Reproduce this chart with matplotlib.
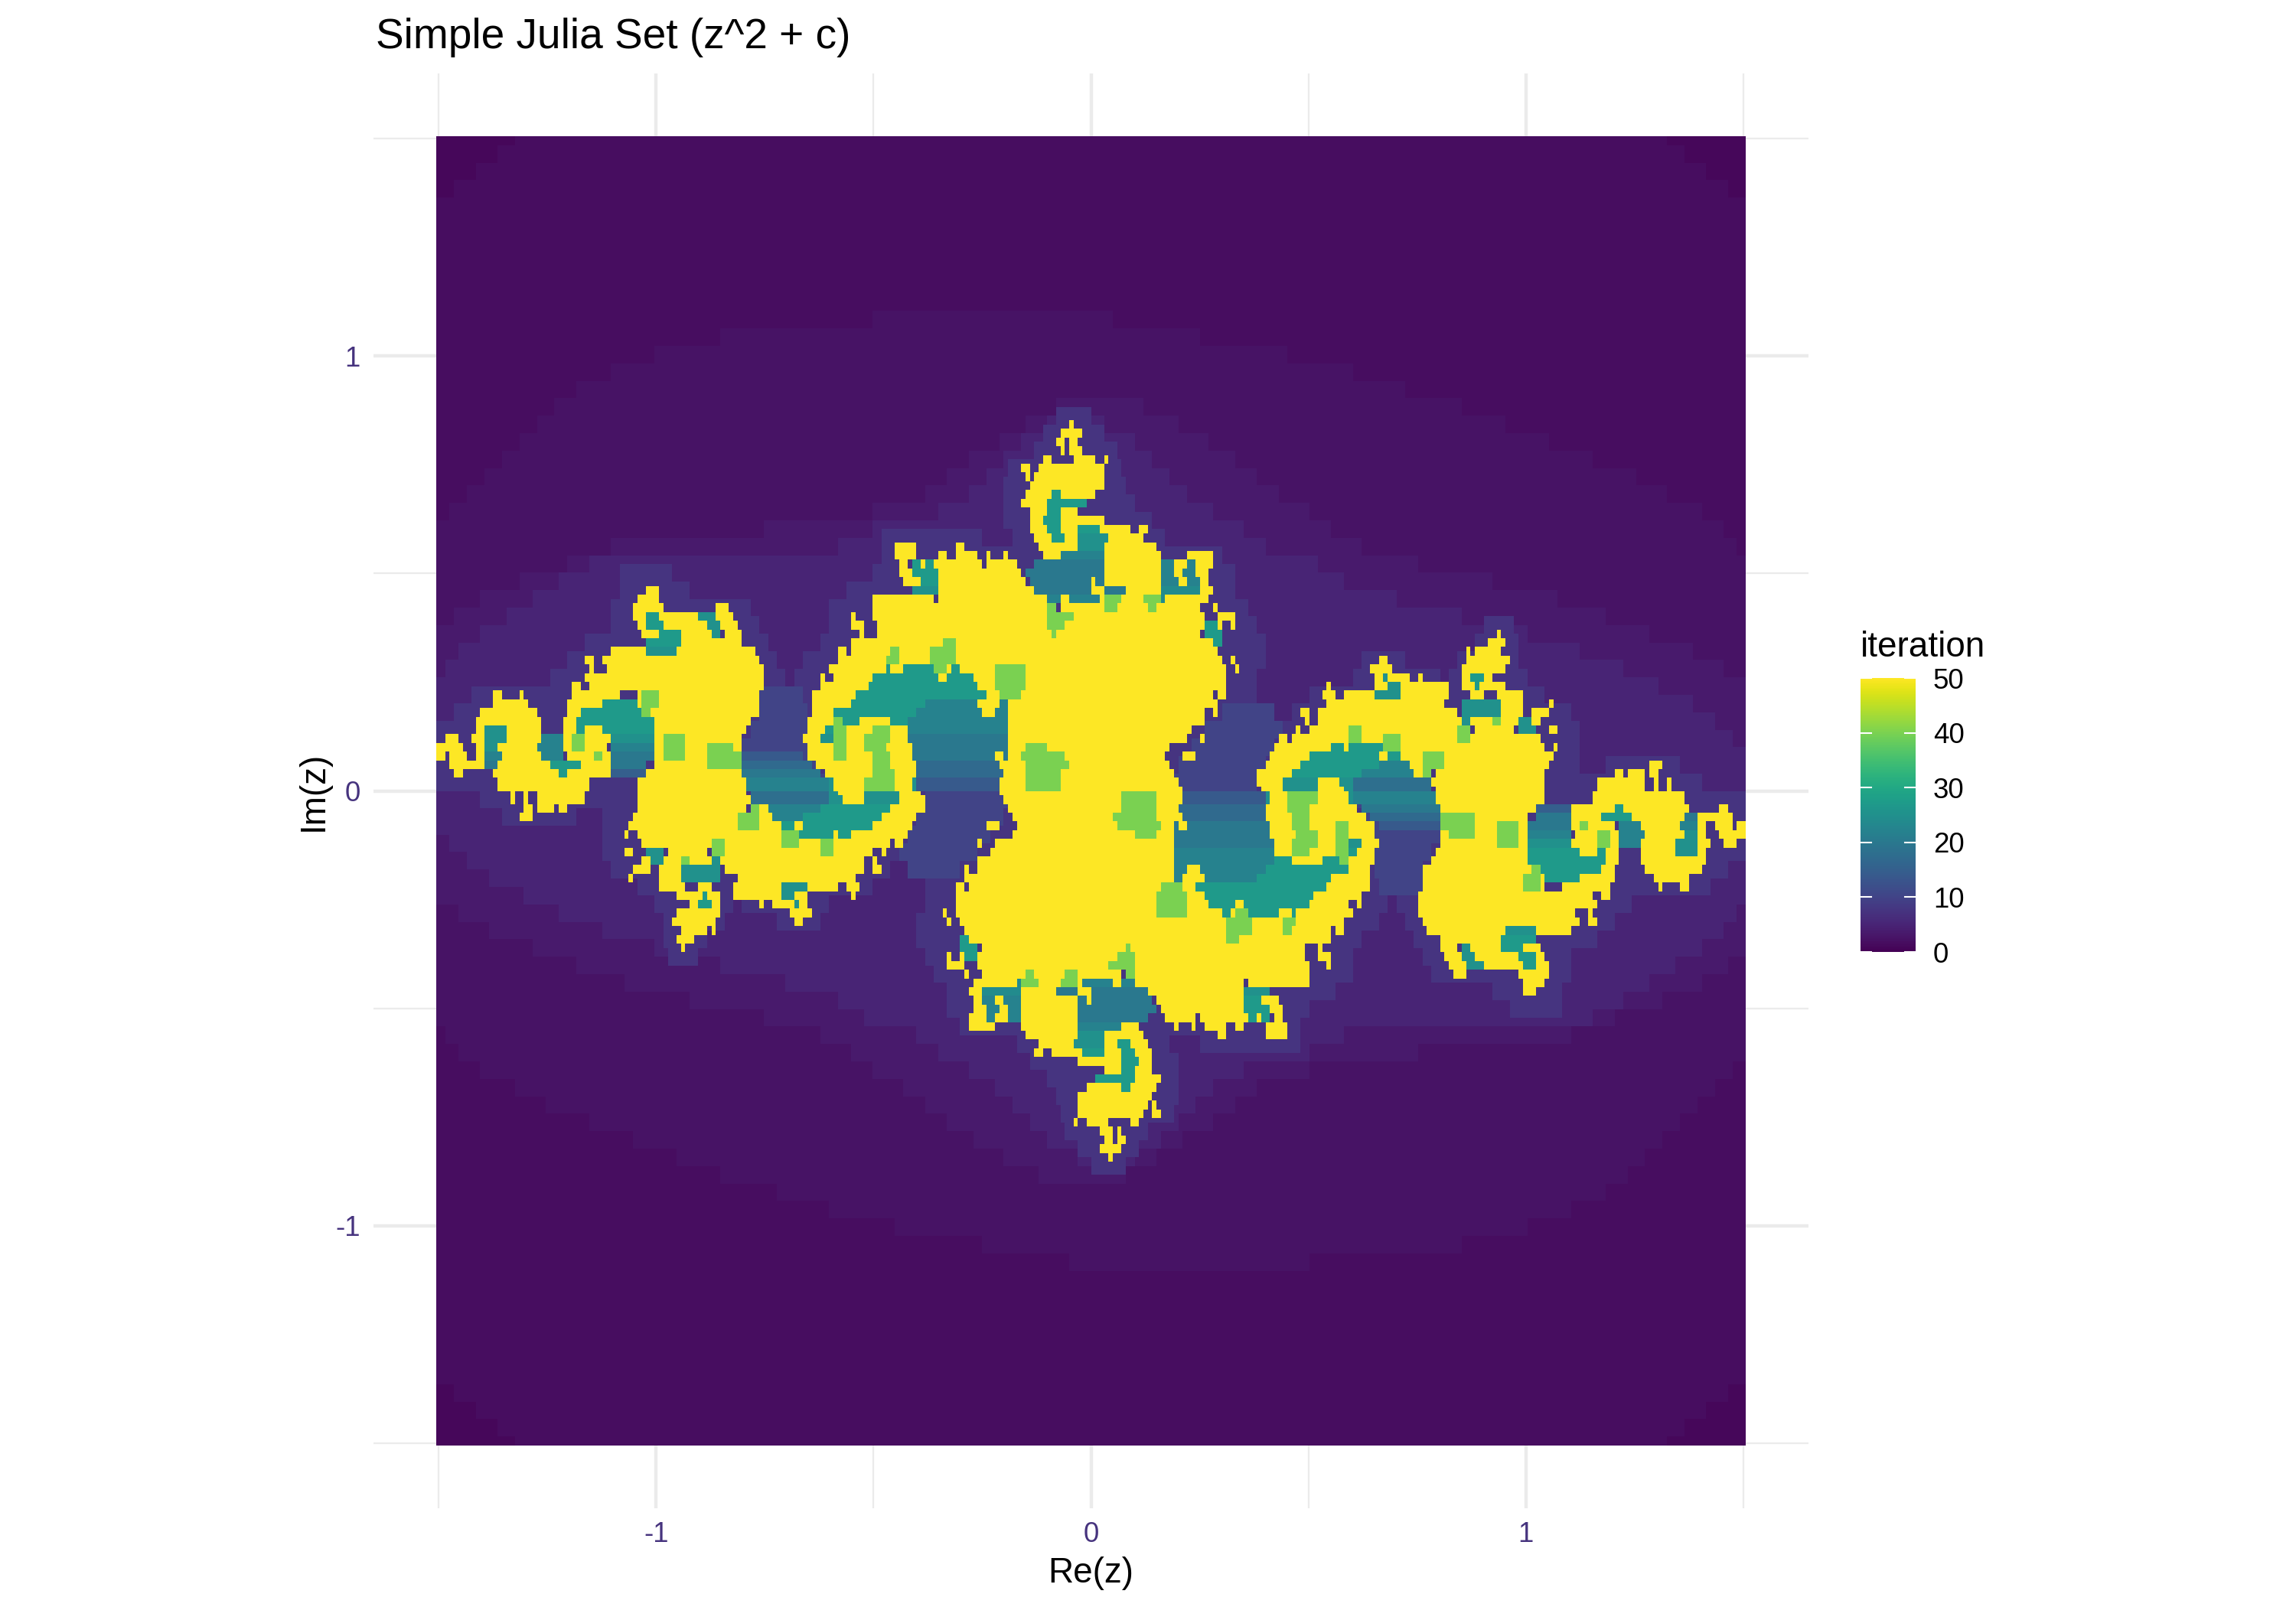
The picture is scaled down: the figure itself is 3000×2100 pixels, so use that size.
import numpy as np
import matplotlib
matplotlib.use("Agg")
import matplotlib.pyplot as plt
from matplotlib.cm import ScalarMappable
from matplotlib.colors import Normalize

plt.rcParams['font.family'] = ['Liberation Sans', 'DejaVu Sans']
plt.rcParams['axes.unicode_minus'] = False

# everything below was read off the picture, for Im(z) >= 0
# key = Im(z) in hundredths, spans = Re(z) in hundredths
MAX_ITER = 50
BASE_LEVEL = 1.6
CORNER_LEVEL = 0.8
BAND2_LEVEL = 2.4
BAND3_LEVEL = 3.5
BAND4_LEVEL = 5
HALO_LEVEL = 7.5
GAP_LEVEL = 10
GREEN_LEVEL = 40
X_TICKS = [-1, 0, 1]
Y_TICKS = [-1, 0, 1]
MINOR_TICKS = [-1.5, -0.5, 0.5, 1.5]
LEGEND_TICKS = [0, 10, 20, 30, 40, 50]

corner_rows = {150: [(-151, -132), (132, 151)], 146: [(-151, -136), (136, 151)],
               142: [(-151, -141), (141, 151)], 138: [(-151, -146), (146, 151)]}

band2_rows = {108: [(-50, 5)], 104: [(-85, 25)], 100: [(-100, 45)], 96: [(-110, 60)],
              92: [(-118, 72)], 88: [(-123, 85)], 84: [(-127, 95)], 80: [(-131, 105)],
              76: [(-135, 115)], 72: [(-139, 125)], 68: [(-143, 132)], 64: [(-147, 140)],
              60: [(-151, 145)], 56: [(-151, 148)], 52: [(-151, 151)], 48: [(-151, 151)],
              44: [(-151, 151)], 40: [(-151, 151)], 36: [(-151, 151)], 32: [(-151, 151)],
              28: [(-151, 151)], 24: [(-151, 151)], 20: [(-151, 151)], 16: [(-151, 151)],
              12: [(-151, 151)], 8: [(-151, 151)], 4: [(-151, 151)], 0: [(-151, 151)]}

band3_rows = {88: [(-8, 12)], 84: [(-15, 20)], 80: [(-21, 27)], 76: [(-28, 33)], 72: [(-33, 38)],
              68: [(-38, 43)], 64: [(-50, 50)], 60: [(-75, 55)], 56: [(-110, 62)], 52: [(-120, 75)],
              48: [(-131, 92)], 44: [(-140, 107)], 40: [(-146, 118)], 36: [(-150, 128)],
              32: [(-151, 138)], 28: [(-151, 145)], 24: [(-151, 150)], 20: [(-151, 151)],
              16: [(-151, 151)], 12: [(-151, 151)], 8: [(-151, 151)], 4: [(-151, 151)], 0: [(-151, 151)]}

band4_rows = {84: [(-10, 3)], 80: [(-16, 10)], 76: [(-20, 14)], 72: [(-24, 18)], 68: [(-28, 22)],
              64: [(-35, 28)], 60: [(-50, 35)], 56: [(-58, 40)], 52: [(-115, 52)], 48: [(-122, 58)],
              44: [(-128, 70)], 40: [(-134, 85)], 36: [(-140, 100)], 32: [(-145, 112)],
              28: [(-148, 122)], 24: [(-151, 130)], 20: [(-151, 138)], 16: [(-151, 143)],
              12: [(-151, 147)], 8: [(-151, 151)], 4: [(-151, 151)], 0: [(-151, 151)]}

halo_rows = {86: [(-8, 0)], 82: [(-11, 3)], 78: [(-13, 6)], 74: [(-19, 7)], 70: [(-20, 8)],
             66: [(-20, 10)], 62: [(-20, 14)], 58: [(-48, -25), (-18, 17)], 54: [(-48, 30)],
             50: [(-108, -96), (-50, 33)], 46: [(-108, -92), (-56, 33)], 42: [(-110, -78), (-60, 36)],
             38: [(-110, -76), (-60, 38), (90, 97)], 34: [(-116, -74), (-62, 40), (88, 98)],
             30: [(-120, -72), (-66, 40), (62, 72), (84, 98)], 26: [(-124, -70), (-68, 38), (60, 80), (82, 100)],
             22: [(-142, -70), (-70, 38), (50, 104)], 18: [(-146, -66), (-68, 34), (46, 110)],
             14: [(-150, -64), (-70, 32), (42, 112)], 10: [(-151, -62), (-72, 30), (38, 112)],
             6: [(-151, -62), (-74, 28), (34, 112), (118, 135)], 2: [(-151, 28), (30, 140)]}

gap_rows = {22: [(-76, -66)], 18: [(-76, -65), (30, 42)], 14: [(-78, -65), (26, 44)],
            10: [(-80, -65), (23, 42)], 6: [(-80, -63), (20, 40)],
            2: [(-78, -60), (16, 38)], 0: [(-78, -60), (16, 38)]}

# spans are (start, end, iteration) here
deep_rows = {
    68: [(-9, -7, 27)], 66: [(-10, -1, 27)], 64: [(-10, -3, 27)], 62: [(-11, -7, 27)],
    60: [(-10, -7, 27), (-3, 2, 27)], 58: [(-9, -6, 27), (-3, 4, 25)], 56: [(-3, 3, 25)],
    54: [(-7, 3, 22)], 52: [(-41, -35, 27), (-13, 3, 20), (16, 25, 22)],
    50: [(-41, -35, 27), (-15, 3, 20), (16, 25, 22)], 48: [(-41, -35, 27), (-14, 3, 20), (16, 25, 22)],
    46: [(-41, -35, 25), (-13, 8, 20), (16, 25, 24)], 44: [(-10, 8, 22), (16, 18, 24)],
    40: [(-102, -94, 27), (-90, -85, 25)], 38: [(-102, -94, 27), (-90, -85, 25), (26, 30, 27)],
    36: [(-102, -94, 27), (-90, -85, 25), (26, 30, 27)], 34: [(-102, -94, 27), (26, 30, 27)],
    32: [(-102, -95, 25)],
    28: [(-60, -30, 27), (87, 90, 27)], 26: [(-55, -27, 27), (65, 72, 25), (87, 90, 27)],
    24: [(-55, -26, 27), (65, 72, 25), (87, 90, 27)], 22: [(-55, -24, 27), (65, 72, 25)],
    20: [(-112, -104, 27), (-59, -38, 27), (-38, -19, 22), (56, 58, 27), (65, 72, 25), (85, 94, 25)],
    18: [(-117, -100, 27), (-60, -40, 27), (-40, -19, 22), (56, 58, 27), (85, 94, 25)],
    16: [(-118, -100, 27), (-59, -42, 27), (-42, -19, 22), (85, 94, 25), (98, 102, 25)],
    14: [(-140, -134, 25), (-118, -100, 27), (-61, -45, 27), (-45, -19, 22), (98, 102, 25)],
    12: [(-147, -145, 25), (-140, -134, 25), (-127, -121, 22), (-110, -100, 25), (-62, -42, 25), (-42, -19, 20)],
    10: [(-140, -134, 25), (-127, -121, 22), (-110, -100, 22), (-41, -19, 20), (54, 67, 27)],
    8: [(-140, -134, 22), (-127, -121, 22), (-110, -100, 20), (-80, -66, 14), (-41, -19, 20), (50, 71, 27)],
    6: [(-140, -136, 20), (-124, -110, 27), (-110, -102, 20), (-80, -64, 17), (-41, -20, 17), (48, 66, 27), (66, 73, 22)],
    4: [(-122, -110, 27), (-110, -102, 15), (-80, -62, 20), (-40, -20, 17), (46, 62, 27), (62, 78, 22)],
    2: [(-79, -60, 22), (-60, -40, 25), (-40, -21, 14), (44, 60, 25), (60, 78, 18)],
    0: [(-81, -60, 22), (-60, -40, 25), (-40, -21, 14), (44, 62, 25), (60, 78, 18)],
}

yellow_rows = {
    84: [(-5, -4)], 82: [(-7, -2)], 80: [(-8, -6), (-5, -3)], 78: [(-7, -6), (-5, -2)],
    76: [(-11, -9), (-4, 1), (3, 4)], 74: [(-16, -14), (-12, 3)], 72: [(-15, -14), (-13, 3)],
    70: [(-14, 3)], 68: [(-15, -9), (-7, 1)], 66: [(-16, -10)], 64: [(-14, -10), (-7, -3)],
    62: [(-14, -11), (-7, 3)], 60: [(-14, -10), (-7, -3), (2, 9), (11, 13)],
    58: [(-13, -9), (-6, -3), (4, 12)], 56: [(-45, -40), (-31, -29), (-12, -3), (3, 15)],
    54: [(-45, -40), (-35, -33), (-31, -26), (-24, -23), (-20, -19), (-11, -7), (3, 16), (22, 28)],
    52: [(-44, -42), (-39, -38), (-36, -25), (-24, -17), (3, 16), (19, 22), (24, 28)],
    50: [(-44, -41), (-35, -16), (3, 16), (19, 21), (24, 27)],
    48: [(-43, -39), (-35, -15), (0, 1), (3, 16), (20, 22), (25, 27)],
    46: [(-102, -99), (-35, -13), (0, 3), (8, 16), (25, 28)],
    44: [(-104, -99), (-50, -36), (-35, -10), (-7, -5), (2, 3), (7, 12), (17, 27)],
    42: [(-105, -98), (-86, -83), (-50, -10), (-7, 25), (28, 29)],
    40: [(-105, -102), (-99, -90), (-86, -82), (-55, -54), (-50, 26), (29, 33)],
    38: [(-104, -102), (-98, -88), (-85, -81), (-55, -52), (-49, 26), (29, 30), (32, 33)],
    36: [(-103, -99), (-94, -87), (-84, -80), (-53, -52), (-49, 25), (93, 94)],
    34: [(-94, -80), (-55, 28), (91, 95)],
    32: [(-110, -102), (-95, -77), (-58, -56), (-55, 29), (86, 87), (88, 94)],
    30: [(-116, -114), (-112, -76), (-58, 30), (32, 33), (66, 68), (86, 96)],
    28: [(-115, -114), (-111, -75), (-60, -47), (-46, -43), (-36, -32), (-30, 31), (33, 34), (64, 69), (85, 95)],
    26: [(-116, -75), (-62, -61), (-59, -50), (-35, -33), (-27, 31), (65, 67), (68, 73), (75, 76), (85, 87), (90, 92)],
    24: [(-119, -117), (-115, -75), (-62, -51), (-26, 31), (54, 55), (65, 68), (71, 82), (85, 88), (89, 95)],
    22: [(-137, -135), (-131, -130), (-119, -108), (-104, -76), (-64, -54), (-24, 28), (29, 31), (53, 56), (58, 65), (71, 82), (87, 90), (93, 99)],
    20: [(-137, -129), (-120, -112), (-104, -76), (-64, -55), (-26, -21), (-19, 29), (54, 81), (94, 99), (105, 106)],
    18: [(-140, -127), (-120, -117), (-103, -76), (-64, -59), (-25, -22), (-19, 26), (28, 29), (48, 50), (52, 84), (94, 99), (101, 105)],
    16: [(-141, -126), (-121, -118), (-100, -78), (-65, -59), (-53, -46), (-19, 26), (49, 50), (52, 85), (87, 98), (101, 103)],
    14: [(-141, -139), (-134, -126), (-121, -118), (-116, -112), (-100, -79), (-65, -61), (-56, -42), (-19, 23), (47, 48), (50, 85), (88, 97), (105, 107)],
    12: [(-148, -145), (-142, -139), (-134, -126), (-121, -118), (-117, -110), (-100, -80), (-66, -62), (-56, -42), (-19, 22), (25, 26), (43, 45), (46, 103)],
    10: [(-150, -144), (-141, -139), (-136, -127), (-121, -111), (-100, -80), (-65, -59), (-56, -41), (-19, 18), (42, 55), (58, 59), (67, 104), (106, 107)],
    8: [(-151, -148), (-147, -143), (-141, -139), (-135, -126), (-120, -110), (-100, -80), (-65, -41), (-22, -20), (-19, 17), (21, 24), (41, 50), (66, 68), (71, 106)],
    6: [(-147, -139), (-136, -124), (-117, -110), (-100, -80), (-63, -40), (-21, 18), (40, 48), (73, 105), (128, 131)],
    4: [(-146, -144), (-137, -122), (-120, -110), (-102, -80), (-61, -40), (-20, 19), (38, 46), (74, 77), (79, 104), (120, 122), (123, 127), (128, 130)],
    2: [(-136, -115), (-104, -79), (-59, -41), (-21, 20), (38, 44), (52, 57), (78, 104), (116, 127), (129, 130), (132, 133)],
    0: [(-136, -115), (-104, -79), (-59, -41), (-21, 21), (39, 44), (52, 58), (79, 104), (116, 127), (129, 130), (132, 133)],
}

green_rows = {
    44: [(3, 7), (12, 16)], 42: [(-10, -8), (3, 6), (13, 15)], 40: [(-10, -4)], 38: [(-10, -6)], 36: [(-9, -8)],
    34: [(-34, -31)], 32: [(-46, -44), (-37, -31)], 30: [(-47, -44), (-37, -31)], 28: [(-36, -33), (-22, -15)],
    26: [(-22, -15)], 24: [(-22, -15)], 22: [(-103, -99), (-21, -16)], 20: [(-103, -99)], 18: [(-103, -101)],
    16: [(-59, -57), (92, 94)], 14: [(-59, -56), (-50, -46), (59, 62), (84, 87)],
    12: [(-119, -116), (-98, -93), (-59, -56), (-52, -46), (59, 62), (67, 71), (84, 87)],
    10: [(-119, -116), (-98, -93), (-88, -82), (-59, -56), (-52, -47), (-15, -10), (67, 71)],
    8: [(-114, -112), (-98, -93), (-88, -80), (-59, -56), (-50, -46), (-16, -6), (76, 81)],
    6: [(-88, -80), (-50, -46), (-15, -5), (76, 81)], 4: [(-50, -45), (-15, -7), (76, 78)],
    2: [(-52, -45), (-15, -7)], 0: [(-52, -45), (-15, -7)],
}


def paint(half, rows, half_height, level=None):
    # rows are centred on their key, half_height in cells
    for key, spans in rows.items():
        lo = max(key - half_height, 0)
        hi = min(key + half_height, 150)
        for span in spans:
            value = level if level is not None else span[2]
            c0 = max(span[0] + 150, 0)
            c1 = min(span[1] + 150, 300)
            half[lo:hi, c0:c1] = value


# half[0] is the row just above Im = 0
half = np.full((150, 300), BASE_LEVEL)
paint(half, corner_rows, 2, CORNER_LEVEL)
paint(half, band2_rows, 2, BAND2_LEVEL)
paint(half, band3_rows, 2, BAND3_LEVEL)
paint(half, band4_rows, 2, BAND4_LEVEL)
paint(half, halo_rows, 2, HALO_LEVEL)
paint(half, gap_rows, 2, GAP_LEVEL)
paint(half, deep_rows, 1)
paint(half, yellow_rows, 1, MAX_ITER)
paint(half, green_rows, 1, GREEN_LEVEL)

# the picture turns onto itself about the origin, lower half = upper half rotated
lower = np.rot90(half, 2)
iteration = np.vstack([lower, half])

x_edges = np.linspace(-1.505, 1.505, 301)
y_edges = np.linspace(-1.505, 1.505, 301)

fig = plt.figure(figsize=(10, 7), dpi=300, facecolor='white')
W, H = 3000.0, 2100.0
left, right, top, bottom = 488, 2363, 96, 1971
ax = fig.add_axes([left / W, 1 - bottom / H, (right - left) / W, (bottom - top) / H])
ax.set_xlim(-1.65, 1.65)
ax.set_ylim(-1.65, 1.65)
ax.set_axisbelow(True)

ax.pcolormesh(x_edges, y_edges, iteration, cmap='viridis', vmin=0, vmax=MAX_ITER,
              shading='flat', rasterized=True, linewidth=0, zorder=3)

ax.set_xticks(X_TICKS)
ax.set_yticks(Y_TICKS)
ax.set_xticks(MINOR_TICKS, minor=True)
ax.set_yticks(MINOR_TICKS, minor=True)
ax.grid(which='major', color='#ebebeb', linewidth=1.07)
ax.grid(which='minor', color='#ebebeb', linewidth=0.53)
ax.tick_params(which='both', length=0)
ax.tick_params(axis='x', labelsize=8.8, labelcolor='#46337e', pad=4.1)
ax.tick_params(axis='y', labelsize=8.8, labelcolor='#46337e', pad=4.1)
for s in ax.spines.values():
    s.set_visible(False)
ax.set_xlabel('Re(z)', fontsize=11, labelpad=2.5)
ax.set_ylabel('Im(z)', fontsize=11, labelpad=1.7)

fig.text(491 / W, 1 - 63 / H, 'Simple Julia Set (z^2 + c)', fontsize=13.2, color='black', va='baseline', ha='left')

# legend
cax = fig.add_axes([2431 / W, 1 - 1244 / H, 72 / W, 358 / H])
sm = ScalarMappable(norm=Normalize(0, MAX_ITER), cmap='viridis')
cb = fig.colorbar(sm, cax=cax, ticks=LEGEND_TICKS)
cb.outline.set_visible(False)
cb.ax.tick_params(length=0, labelsize=8.8, pad=5.5, labelcolor='black')
for t in LEGEND_TICKS:
    cax.plot([0, 0.2], [t, t], transform=cax.get_yaxis_transform(), color='white', lw=0.5, clip_on=True)
    cax.plot([0.8, 1], [t, t], transform=cax.get_yaxis_transform(), color='white', lw=0.5, clip_on=True)
fig.text(2431 / W, 1 - 858 / H, 'iteration', fontsize=11, color='black', va='baseline', ha='left')

fig.savefig('out.png', dpi=300)
